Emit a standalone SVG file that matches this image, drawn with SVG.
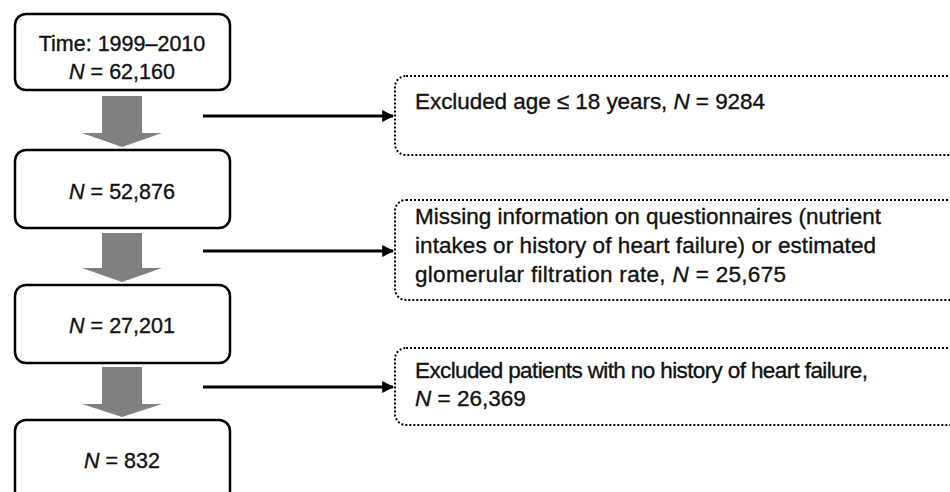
<svg xmlns="http://www.w3.org/2000/svg" width="950" height="492" viewBox="0 0 950 492">
<style>
.box{fill:#fff;stroke:#000;stroke-width:2.5}
.dbox{fill:#fff;stroke:#000;stroke-width:2;stroke-dasharray:2 2}
.t{font-family:"Liberation Sans",Arial,sans-serif;font-size:22.5px;fill:#111;stroke:#111;stroke-width:0.35}
.s{font-size:21.5px}
.c{text-anchor:middle}
.down{fill:#808080}
.line{stroke:#000;stroke-width:3;fill:none;marker-end:url(#ah)}
</style>
<defs>
<marker id="ah" viewBox="0 0 10 10" refX="9" refY="5" markerWidth="4" markerHeight="4" orient="auto" markerUnits="strokeWidth">
<path d="M0,0 L10,5 L0,10 z" fill="#000"/>
</marker>
</defs>
<rect width="950" height="492" fill="#fff"/>
<g id="n1"><rect class="box" x="15" y="14" width="215" height="76" rx="11"/>
<text class="t s c" x="122" y="51">Time: 1999–2010</text>
<text class="t s c" x="122" y="79"><tspan font-style="italic">N</tspan> = 62,160</text></g>
<g id="n2"><rect class="box" x="15" y="150" width="215" height="78" rx="11"/>
<text class="t s c" x="122" y="199"><tspan font-style="italic">N</tspan> = 52,876</text></g>
<g id="n3"><rect class="box" x="15" y="285" width="215" height="78" rx="11"/>
<text class="t s c" x="122" y="333"><tspan font-style="italic">N</tspan> = 27,201</text></g>
<g id="n4"><rect class="box" x="15" y="420" width="215" height="90" rx="11"/>
<text class="t s c" x="122" y="468"><tspan font-style="italic">N</tspan> = 832</text></g>
<g id="e1"><rect class="dbox" x="395" y="76" width="580" height="79" rx="11"/>
<text class="t" x="415" y="109" textLength="350" lengthAdjust="spacing">Excluded age ≤ 18 years, <tspan font-style="italic">N</tspan> = 9284</text></g>
<g id="e2"><rect class="dbox" x="395" y="200" width="580" height="100" rx="11"/>
<text class="t" x="415" y="224" textLength="466" lengthAdjust="spacing">Missing information on questionnaires (nutrient</text>
<text class="t" x="415" y="253" textLength="461" lengthAdjust="spacing">intakes or history of heart failure) or estimated</text>
<text class="t" x="415" y="282" textLength="371" lengthAdjust="spacing">glomerular filtration rate, <tspan font-style="italic">N</tspan> = 25,675</text></g>
<g id="e3"><rect class="dbox" x="395" y="348" width="580" height="77" rx="11"/>
<text class="t" x="415" y="378" textLength="453" lengthAdjust="spacing">Excluded patients with no history of heart failure,</text>
<text class="t" x="415" y="406"><tspan font-style="italic">N</tspan> = 26,369</text></g>
<g id="connectors">
<path class="down" d="M102,96 H142 V133 H162 L122,147 L82,133 H102 Z"/>
<path class="down" d="M102,233 H142 V268 H162 L122,282 L82,268 H102 Z"/>
<path class="down" d="M102,367 H142 V404 H162 L122,417 L82,404 H102 Z"/>
<line class="line" x1="203" y1="116" x2="393" y2="116"/>
<line class="line" x1="203" y1="251" x2="393" y2="251"/>
<line class="line" x1="203" y1="387" x2="393" y2="387"/>
</g>
</svg>
